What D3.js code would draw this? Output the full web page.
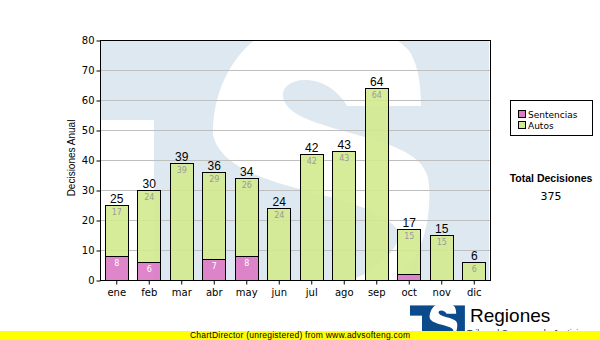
<!DOCTYPE html>
<html>
<head>
<meta charset="utf-8">
<script src="https://cdn.jsdelivr.net/npm/d3@7"></script>
<style>
  body { margin: 0; background: #fff; }
  svg { display: block; }
</style>
</head>
<body>
<svg id="chart" width="600" height="340"></svg>
<script>
// Monthly decisions, split by type
const months = ["ene", "feb", "mar", "abr", "may", "jun", "jul", "ago", "sep", "oct", "nov", "dic"];
const sentencias = [8, 6, 0, 7, 8, 0, 0, 0, 0, 2, 0, 0];
const autos = [17, 24, 39, 29, 26, 24, 42, 43, 64, 15, 15, 6];
const yTicks = [0, 10, 20, 30, 40, 50, 60, 70, 80];
const seriesNames = ["Sentencias", "Autos"];
const seriesColors = ["#dc78c4", "#d3ea8e"];
const yTitle = "Decisiones Anual";
const totalTitle = "Total Decisiones";

const svg = d3.select("#chart");
const plot = { left: 100, right: 490, top: 40, bottom: 280 };

const x = d3.scaleBand()
  .domain(months)
  .range([plot.left, plot.right])
  .paddingInner(0.28)
  .paddingOuter(0.14);

const y = d3.scaleLinear()
  .domain([0, 80])
  .range([plot.bottom, plot.top]);

const rows = months.map((m, i) => ({ month: m, Sentencias: sentencias[i], Autos: autos[i] }));
const stacked = d3.stack().keys(seriesNames)(rows);
const totals = rows.map(r => r.Sentencias + r.Autos);
const grandTotal = d3.sum(totals);

// Emblem: a "T" block with a white "S" cut through it (drawn in its own unit space)
const emblemS = "M213,135 C212,90 235,45 275,28 C320,10 385,22 410,52 C418,65 421,85 421,106 " +
  "L347,106 C338,90 322,80 305,80 C290,80 282,88 283,96 C285,112 305,120 340,130 " +
  "C380,142 428,150 429,185 C431,215 425,245 408,268 C385,298 330,312 270,305 " +
  "L268,292 C320,292 360,282 382,262 C398,246 402,236 396,228 " +
  "C385,215 365,207 330,197 C280,184 222,172 213,135 Z";

function drawEmblem(g, blue) {
  g.append("rect").attr("x", 60).attr("y", 40).attr("width", 94).attr("height", 80).attr("fill", blue);
  g.append("rect").attr("x", 154).attr("y", 40).attr("width", 335).attr("height", 360).attr("fill", blue);
  g.append("path").attr("d", emblemS).attr("fill", "#ffffff");
}

svg.append("rect").attr("width", 600).attr("height", 340).attr("fill", "#ffffff");

const defs = svg.append("defs");
defs.append("clipPath").attr("id", "plot-clip")
  .append("rect")
  .attr("x", plot.left).attr("y", plot.top)
  .attr("width", plot.right - plot.left).attr("height", plot.bottom - plot.top);

// Faint emblem behind the plot
drawEmblem(svg.append("g").attr("clip-path", "url(#plot-clip)"), "#dee8f1");

// Horizontal grid
svg.append("g")
  .selectAll("line")
  .data(yTicks.filter(t => t > 0 && t < 80))
  .join("line")
  .attr("x1", plot.left).attr("x2", plot.right)
  .attr("y1", d => y(d) + 0.5).attr("y2", d => y(d) + 0.5)
  .attr("stroke", "#bfbfbf").attr("stroke-width", 1);

// Stacked bars
const bw = Math.round(x.bandwidth());
const layers = svg.append("g")
  .selectAll("g")
  .data(stacked)
  .join("g")
  .attr("fill", (d, i) => seriesColors[i]);

layers.selectAll("rect")
  .data(d => d.filter(s => s[1] - s[0] > 0))
  .join("rect")
  .attr("x", d => Math.round(x(d.data.month)) + 0.5)
  .attr("y", d => Math.round(y(d[1])) + 0.5)
  .attr("width", bw)
  .attr("height", d => Math.round(y(d[0])) - Math.round(y(d[1])))
  .attr("fill-opacity", 0.9)
  .attr("stroke", "#000")
  .attr("stroke-width", 1);

// Segment values inside each stack piece
stacked.forEach((layer, li) => {
  svg.append("g")
    .selectAll("text")
    .data(layer.filter(s => y(s[0]) - y(s[1]) >= 12))
    .join("text")
    .attr("x", d => x(d.data.month) + x.bandwidth() / 2 + 0.5)
    .attr("y", d => y(d[1]) + 10)
    .attr("text-anchor", "middle")
    .attr("font-family", "DejaVu Sans, sans-serif")
    .attr("font-size", 8)
    .attr("fill", li === 0 ? "#ffffff" : "#9a9a9a")
    .text(d => d[1] - d[0]);
});

// Totals above the bars
svg.append("g")
  .selectAll("text")
  .data(rows)
  .join("text")
  .attr("x", (d, i) => x(d.month) + x.bandwidth() / 2 + 0.5)
  .attr("y", (d, i) => y(totals[i]) - 2)
  .attr("text-anchor", "middle")
  .attr("font-family", "Liberation Sans, Arial, sans-serif")
  .attr("font-size", 12)
  .attr("fill", "#000")
  .text((d, i) => totals[i]);

// Plot frame
svg.append("rect")
  .attr("x", plot.left + 0.5).attr("y", plot.top + 0.5)
  .attr("width", plot.right - plot.left).attr("height", plot.bottom - plot.top)
  .attr("fill", "none").attr("stroke", "#000").attr("stroke-width", 1);

// Axes
const yAxis = svg.append("g")
  .attr("transform", `translate(${plot.left + 0.5},0.5)`)
  .call(d3.axisLeft(y).tickValues(yTicks).tickSize(4).tickPadding(2));
yAxis.select(".domain").remove();
yAxis.selectAll("text").attr("font-family", "DejaVu Sans, sans-serif").attr("font-size", 10).attr("fill", "#000");
yAxis.selectAll("line").attr("stroke", "#000");

const xAxis = svg.append("g")
  .attr("transform", `translate(0.5,${plot.bottom + 0.5})`)
  .call(d3.axisBottom(x).tickSize(4).tickPadding(4));
xAxis.select(".domain").remove();
xAxis.selectAll("text").attr("font-family", "DejaVu Sans, sans-serif").attr("font-size", 10).attr("fill", "#000");
xAxis.selectAll("line").attr("stroke", "#000");

svg.append("text")
  .attr("transform", "translate(75,158) rotate(-90)")
  .attr("text-anchor", "middle")
  .attr("font-family", "Liberation Sans, Arial, sans-serif")
  .attr("font-size", 10)
  .attr("fill", "#000")
  .text(yTitle);

// Legend
const legend = svg.append("g");
legend.append("rect")
  .attr("x", 510.5).attr("y", 100.5).attr("width", 82).attr("height", 35)
  .attr("fill", "#fff").attr("stroke", "#000");
seriesNames.forEach((name, i) => {
  legend.append("rect")
    .attr("x", 518.5).attr("y", 110.5 + i * 11).attr("width", 7).attr("height", 7)
    .attr("fill", seriesColors[i]).attr("stroke", "#000");
  legend.append("text")
    .attr("x", 528).attr("y", 117.5 + i * 11)
    .attr("font-family", "DejaVu Sans, sans-serif")
    .attr("font-size", 9)
    .attr("fill", "#000")
    .text(name);
});

// Grand total
svg.append("text")
  .attr("x", 551).attr("y", 182)
  .attr("text-anchor", "middle")
  .attr("font-family", "Liberation Sans, Arial, sans-serif")
  .attr("font-weight", "bold")
  .attr("font-size", 10.5)
  .attr("fill", "#000")
  .text(totalTitle);
svg.append("text")
  .attr("x", 551).attr("y", 200)
  .attr("text-anchor", "middle")
  .attr("font-family", "DejaVu Sans, sans-serif")
  .attr("font-size", 11)
  .attr("fill", "#000")
  .text(grandTotal);

// Brand mark
drawEmblem(svg.append("g").attr("transform", "translate(402.3,300.3) scale(0.128)"), "#0b4a8b");
svg.append("text")
  .attr("x", 470).attr("y", 322)
  .attr("font-family", "Liberation Sans, Arial, sans-serif")
  .attr("font-size", 19)
  .attr("fill", "#000")
  .text("Regiones");
svg.append("text")
  .attr("x", 467).attr("y", 335.5)
  .attr("font-family", "Liberation Sans, Arial, sans-serif")
  .attr("font-size", 9)
  .attr("fill", "#333")
  .text("Tribunal Supremo de Justicia");

// Footer strip
svg.append("rect").attr("x", 0).attr("y", 331).attr("width", 600).attr("height", 9).attr("fill", "#ffff00");
svg.append("text")
  .attr("x", 190).attr("y", 338)
  .attr("font-family", "Liberation Sans, Arial, sans-serif")
  .attr("font-size", 8.5)
  .attr("textLength", 220)
  .attr("fill", "#000")
  .text("ChartDirector (unregistered) from www.advsofteng.com");
</script>
</body>
</html>
